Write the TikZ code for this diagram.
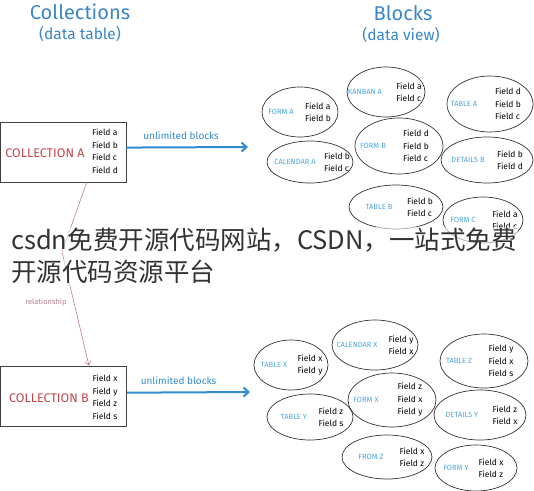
\documentclass[tikz,border=0pt]{standalone}
\usepackage{fontspec}
\setmainfont{Fira Sans}
\newfontfamily\cjk{Noto Sans CJK SC}
\usetikzlibrary{arrows.meta}
\definecolor{ttlblue}{HTML}{3A86C8}
\definecolor{lblblue}{HTML}{4BA6DE}
\definecolor{colred}{HTML}{C0474A}
\definecolor{relpink}{HTML}{B97C8E}
\definecolor{arrblue}{HTML}{2F8CD0}
\begin{document}
\begin{tikzpicture}[x=1pt,y=-1pt,
  ttl/.style={text=ttlblue,font=\fontsize{20}{20}\selectfont},
  sub/.style={text=ttlblue,font=\fontsize{15.5}{16}\selectfont},
  coll/.style={draw=black!75,line width=0.7pt,minimum width=126pt,minimum height=60pt,inner sep=0pt},
  cname/.style={text=colred,font=\fontsize{12.5}{13}\selectfont},
  fld/.style={align=left,inner sep=0pt,font=\fontsize{8.5}{12.5}\selectfont},
  blk/.style={text=lblblue,inner sep=0pt,font=\fontsize{7.5}{8}\selectfont},
  blob/.style={draw=black!80,line width=0.7pt},
  ubl/.style={draw=arrblue,line width=2pt,-{Straight Barb[length=5pt,width=9pt]}},
  rel/.style={draw=relpink,line width=0.6pt,-{Straight Barb[length=4pt,width=6pt]}}]
\useasboundingbox (0,0) rectangle (534,490);
\node[ttl] (colttl) at (80,12) {Collections};
\node[sub] (colsub) at (80,34) {(data table)};
\node[ttl] (blkttl) at (403,13) {Blocks};
\node[sub] (blksub) at (401,35) {(data view)};
% collections
\node[coll] (collA) at (63,152) {};
\node[cname] (collA-name) at (45,153) {COLLECTION A};
\node[fld] (collA-fld) at (105,151) {Field a\\Field b\\Field c\\Field d};
\node[coll] (collB) at (63.5,396) {};
\node[cname] (collB-name) at (49,398) {COLLECTION B};
\node[fld] (collB-fld) at (105,397) {Field x\\Field y\\Field z\\Field s};
\coordinate (endA) at (248,147);
\coordinate (endB) at (250,392);
\draw[ubl] (collA.4.5) -- (endA) node[pos=0.45,above=3pt,text=arrblue,font=\fontsize{10}{10}\selectfont] (ublA) {unlimited blocks};
\draw[ubl] (collB.3.7) -- (endB) node[pos=0.42,above=3pt,text=arrblue,font=\fontsize{10}{10}\selectfont] (ublB) {unlimited blocks};
\coordinate (bend) at (62,252);
\draw[rel] (collA.-52.5) -- (bend) -- (collB.50);
\node[text=relpink,font=\fontsize{7.5}{8}\selectfont] (reltxt) at (46,302) {relationship};
% blocks
\foreach \cx/\cy/\rx/\ry/\lx/\lab/\fx/\fld [count=\i] in {
  300/112/38/25/281/FORM A/318/{Field a\\Field b},
  386/92/39/25/365/KANBAN A/409/{Field a\\Field c},
  490/104/43/28/464/TABLE A/508/{Field d\\Field b\\Field c},
  399/146/44/28/373/FORM B/416/{Field d\\Field b\\Field c},
  310/162/43/21/295/CALENDAR A/337/{Field b\\Field c},
  487/160/46/23/468/DETAILS B/510/{Field b\\Field d},
  396/207/47/22/379/TABLE B/420/{Field b\\Field c},
  483/220/40/23/463/FORM C/505/{Field a\\Field c},
  291/365/37/25/274/TABLE X/310/{Field x\\Field y},
  375/345/43/25/357/CALENDAR X/401/{Field y\\Field x},
  484/361/44/27/459/TABLE Z/501/{Field y\\Field x\\Field s},
  392/400/44/27/366/FORM X/410/{Field z\\Field x\\Field y},
  310/417/43/23/294/TABLE Y/331/{Field z\\Field s},
  480/415/46/25/462/DETAILS Y/505/{Field z\\Field x},
  387/457/45/22/371/FROM Z/412/{Field x\\Field z},
  476/468/41/23/456/FORM Y/491/{Field x\\Field z}}
{
  \draw[blob] (\cx,\cy) ellipse [x radius=\rx pt, y radius=\ry pt];
  \node[blk] (blk\i) at (\lx,\cy) {\lab};
  \node[fld] (fld\i) at (\fx,\cy) {\fld};
}
% overlay text
\node[anchor=west,inner sep=1pt,fill=white,fill opacity=0.55,text opacity=1,text=black!80,
  font=\cjk\fontsize{25.5}{26}\selectfont] (wm1) at (10,240) {csdn免费开源代码网站，CSDN，一站式免费};
\node[anchor=west,inner sep=1pt,fill=white,fill opacity=0.55,text opacity=1,text=black!80,
  font=\cjk\fontsize{25.5}{26}\selectfont] (wm2) at (10,272) {开源代码资源平台};
\end{tikzpicture}
\end{document}
